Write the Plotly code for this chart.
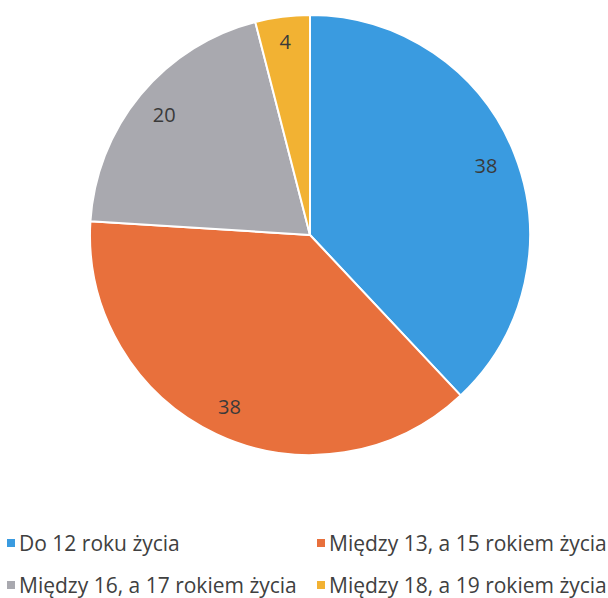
import plotly.graph_objects as go

labels = ["Do 12 roku życia", "Między 13, a 15 rokiem życia",
          "Między 16, a 17 rokiem życia", "Między 18, a 19 rokiem życia"]
values = [38, 38, 20, 4]
colors = ["#3a9be0", "#e8703c", "#a9a9af", "#f2b233"]

W, H = 608, 598
ML, MT, PW, PH = 90, 15, 440, 440
OFF = 0  # page body margin removed via post_script


def px(x):
    return (x - OFF - ML) / PW


def py(y):
    return 1 - (y - OFF - MT) / PH


FONT = "Open Sans, Lato, sans-serif"

fig = go.Figure()
fig.add_trace(go.Pie(
    labels=labels, values=values, sort=False, direction="clockwise", rotation=0,
    marker=dict(colors=colors, line=dict(color="white", width=2)),
    textinfo="none", hoverinfo="label+value", showlegend=False,
))
fig.add_trace(go.Pie(
    labels=labels, values=values, sort=False, direction="clockwise", rotation=0,
    hole=0.72,
    marker=dict(colors=["rgba(0,0,0,0)"] * 4, line=dict(width=0)),
    textinfo="value", textposition="inside", insidetextorientation="horizontal",
    textfont=dict(family=FONT, size=20, color="#3a3a3a"),
    hoverinfo="skip", showlegend=False,
))

# legend (2 x 2 grid) built from labels/colors
key_pos = [(11, 543), (321, 543), (11, 585), (321, 585)]
shapes, annotations = [], []
for (cx, cy), lab, col in zip(key_pos, labels, colors):
    shapes.append(dict(type="rect", xref="paper", yref="paper",
                       x0=px(cx - 4), x1=px(cx + 4), y0=py(cy + 4), y1=py(cy - 4),
                       fillcolor=col, line=dict(width=0)))
    annotations.append(dict(xref="paper", yref="paper", x=px(cx + 6), y=py(cy),
                            xanchor="left", yanchor="middle", showarrow=False,
                            text=lab, font=dict(family=FONT, size=21, color="#404040")))

fig.update_layout(
    width=W, height=H,
    margin=dict(l=ML, r=W - ML - PW, t=MT, b=H - MT - PH),
    paper_bgcolor="white", plot_bgcolor="white",
    showlegend=False,
    shapes=shapes, annotations=annotations,
)
fig.write_html(
    "out.html",
    config={"displayModeBar": False},
    post_script="document.body.style.margin='0';document.body.style.overflow='hidden';",
)
